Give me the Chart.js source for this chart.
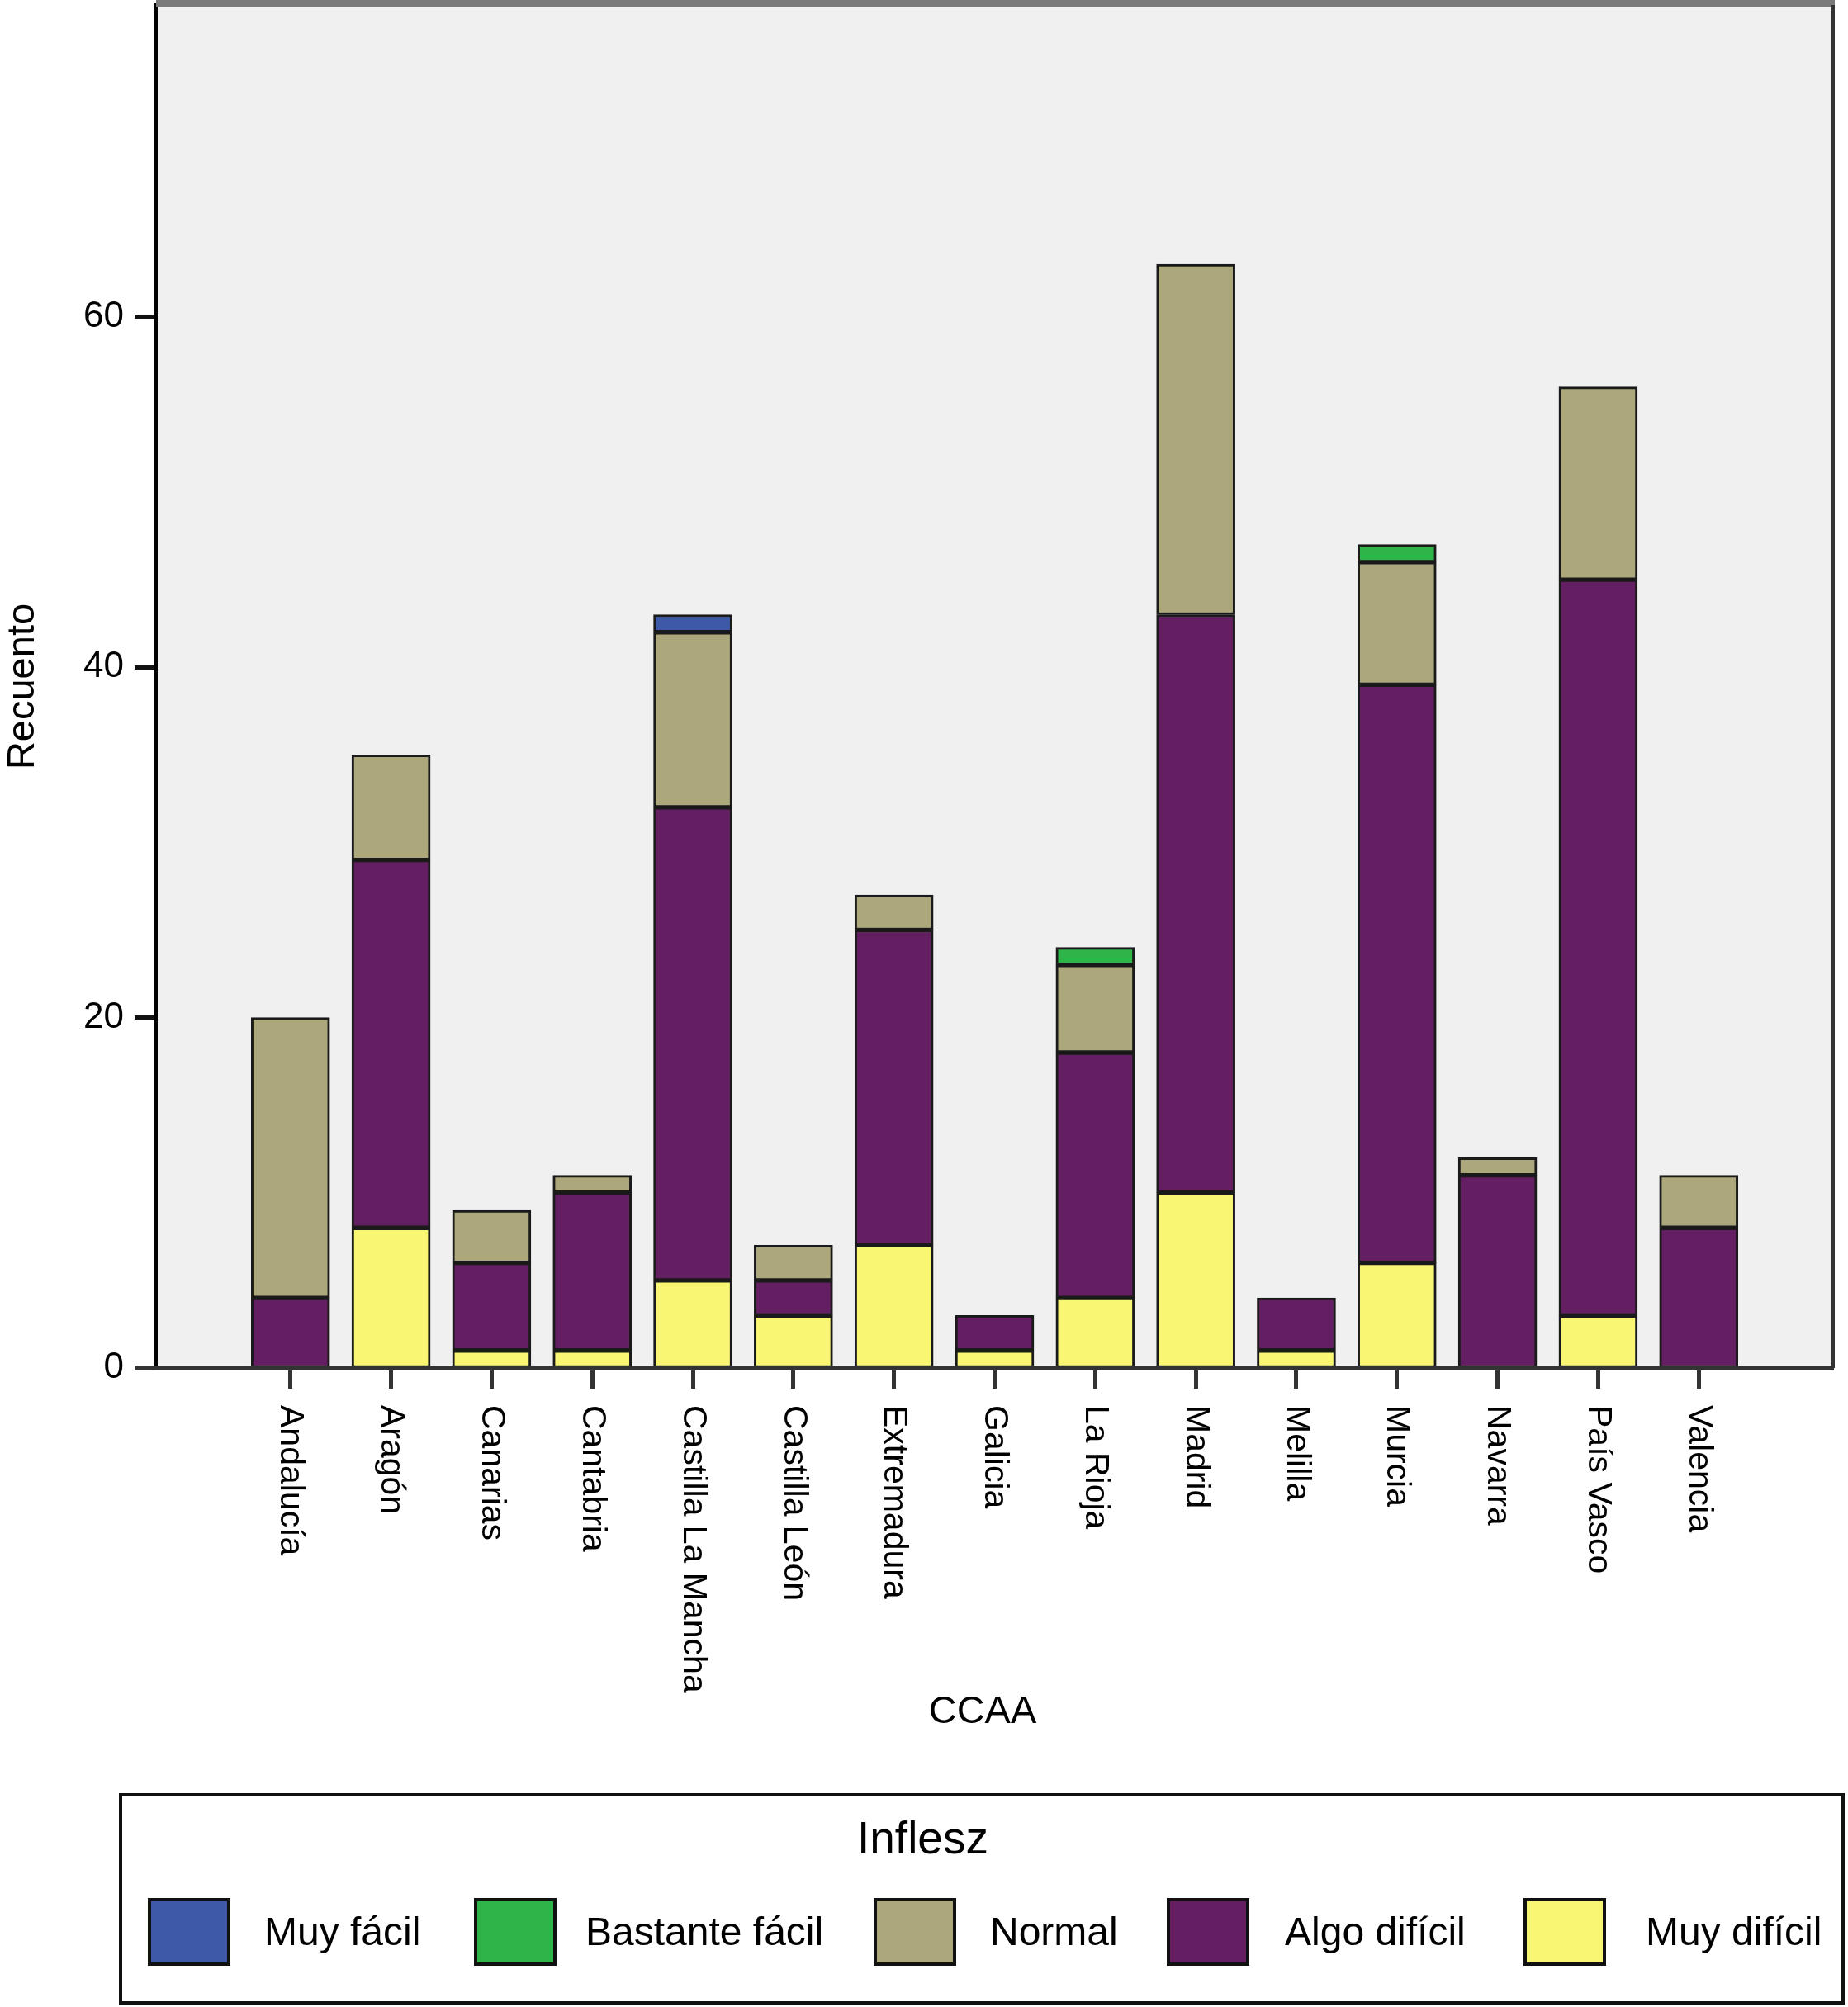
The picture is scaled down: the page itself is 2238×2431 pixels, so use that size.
<!DOCTYPE html>
<html>
<head>
<meta charset="utf-8">
<script src="https://cdn.jsdelivr.net/npm/chart.js@4"></script>
<style>
  body { margin: 0; background: #fff; }
  #wrap { position: relative; width: 2238px; height: 2431px; font-family: "Liberation Sans", Arial, sans-serif; }
  #chart { position: absolute; left: 0; top: 0; }
  #legend { position: absolute; left: 144px; top: 2172px; width: 2082px; height: 248px; border: 4px solid #111; }
  #legend .ttl { position: absolute; top: 18px; font-size: 55px; color: #000; }
  #legend .box { position: absolute; width: 92px; height: 74px; border: 4px solid #111; }
  #legend .lbl { position: absolute; font-size: 48px; color: #000; line-height: 1; }
</style>
</head>
<body>
<div id="wrap">
  <canvas id="chart" width="2238" height="2431"></canvas>
  <div id="legend"></div>
</div>
<script>
const categories = ["Andalucía", "Aragón", "Canarias", "Cantabria", "Castilla La Mancha", "Castilla León",
  "Extremadura", "Galicia", "La Rioja", "Madrid", "Melilla", "Murcia", "Navarra", "País Vasco", "Valencia"];

// stacked bottom to top
const muyDificil    = [0, 8, 1, 1, 5, 3, 7, 1, 4, 10, 1, 6, 0, 3, 0];
const algoDificil   = [4, 21, 5, 9, 27, 2, 18, 2, 14, 33, 3, 33, 11, 42, 8];
const normal        = [16, 6, 3, 1, 10, 2, 2, 0, 5, 20, 0, 7, 1, 11, 3];
const bastanteFacil = [0, 0, 0, 0, 0, 0, 0, 0, 1, 0, 0, 1, 0, 0, 0];
const muyFacil      = [0, 0, 0, 0, 1, 0, 0, 0, 0, 0, 0, 0, 0, 0, 0];

const yTicks = [0, 20, 40, 60];

const seriesNames = ["Muy difícil", "Algo difícil", "Normal", "Bastante fácil", "Muy fácil"];
const seriesData = [muyDificil, algoDificil, normal, bastanteFacil, muyFacil];
const seriesColors = ["#f9f674", "#631f61", "#aca87c", "#2eb54a", "#3f59a9"];

const FONT = "Liberation Sans";

function toPoints(arr) {
  return arr.map((v, i) => ({ x: i, y: v === 0 ? null : v }));
}

const datasets = seriesNames.map((name, k) => ({
  label: name,
  data: toPoints(seriesData[k]),
  backgroundColor: seriesColors[k],
  borderColor: "#1a1a1a",
  borderWidth: 3,
  borderSkipped: false,
  barThickness: 95,
}));

const framePlugin = {
  id: "frame",
  beforeDraw(chart) {
    const a = chart.chartArea;
    const ctx = chart.ctx;
    ctx.save();
    ctx.fillStyle = "#f0f0f0";
    ctx.fillRect(a.left, a.top, a.right - a.left, a.bottom - a.top);
    ctx.restore();
  },
  afterDatasetsDraw(chart) {
    const a = chart.chartArea;
    const ctx = chart.ctx;
    ctx.save();
    // top border
    ctx.strokeStyle = "#7a7a7a";
    ctx.lineWidth = 9;
    ctx.beginPath();
    ctx.moveTo(a.left, 4.5);
    ctx.lineTo(a.right + 2, 4.5);
    ctx.stroke();
    // right border
    ctx.strokeStyle = "#333";
    ctx.lineWidth = 4;
    ctx.beginPath();
    ctx.moveTo(a.right, a.top);
    ctx.lineTo(a.right, a.bottom);
    ctx.stroke();
    // baseline, running a bit left of the y axis
    ctx.strokeStyle = "#333";
    ctx.lineWidth = 5;
    ctx.beginPath();
    ctx.moveTo(163, a.bottom);
    ctx.lineTo(a.right, a.bottom);
    ctx.stroke();
    ctx.restore();
  },
  afterDraw(chart) {
    const xs = chart.scales.x;
    const ctx = chart.ctx;
    ctx.save();
    ctx.fillStyle = "#000";
    ctx.font = "41px '" + FONT + "'";
    ctx.textAlign = "left";
    ctx.textBaseline = "middle";
    categories.forEach((c, i) => {
      ctx.save();
      ctx.translate(xs.getPixelForValue(i), 1702);
      ctx.rotate(Math.PI / 2);
      ctx.fillText(c, 0, 0);
      ctx.restore();
    });
    // axis title, centred under the bars like the original
    ctx.font = "47px '" + FONT + "'";
    ctx.textAlign = "center";
    ctx.fillText("CCAA", 1190, 2074);
    ctx.restore();
  },
};

new Chart(document.getElementById("chart"), {
  type: "bar",
  data: { datasets: datasets },
  plugins: [framePlugin],
  options: {
    responsive: false,
    devicePixelRatio: 1,
    animation: false,
    layout: { autoPadding: false, padding: { left: 0, top: 6, right: 18, bottom: 329 } },
    plugins: { legend: { display: false }, tooltip: { enabled: false } },
    scales: {
      x: {
        type: "linear",
        stacked: true,
        offset: false,
        min: -1.336,
        max: 15.336,
        afterBuildTicks(scale) {
          scale.ticks = categories.map((c, i) => ({ value: i }));
        },
        afterFit(scale) {
          scale.height = 445;
          scale.paddingLeft = 0;
          scale.paddingRight = 0;
        },
        ticks: { autoSkip: false, maxRotation: 0, callback: () => "" },
        grid: { offset: false, drawOnChartArea: false, drawTicks: true, tickLength: 25, tickWidth: 5, tickColor: "#333" },
        border: { display: true, color: "#333", width: 5 },
        title: { display: false },
      },
      y: {
        stacked: true,
        min: 0,
        max: 77.8,
        afterBuildTicks(scale) {
          scale.ticks = yTicks.map((v) => ({ value: v }));
        },
        afterFit(scale) {
          scale.width = 189;
          scale.paddingTop = 0;
          scale.paddingBottom = 0;
        },
        ticks: { color: "#000", padding: 13, font: { family: FONT, size: 44 } },
        grid: { drawOnChartArea: false, drawTicks: true, tickLength: 26, tickWidth: 5, tickColor: "#111" },
        border: { display: true, color: "#000", width: 4 },
        title: {
          display: true,
          text: "Recuento",
          color: "#000",
          font: { family: FONT, size: 47 },
          padding: { top: 0, bottom: 0 },
        },
      },
    },
  },
});

// legend, in the order of the reference (top of stack first); offsets inside the box
const legendBoxX = [31, 426, 910, 1265, 1697];
const legendTextX = [172, 561, 1051, 1408, 1845];
const legend = document.getElementById("legend");
const title = document.createElement("div");
title.className = "ttl";
title.textContent = "Inflesz";
title.style.left = "890px";
legend.appendChild(title);
seriesNames.slice().reverse().forEach((name, j) => {
  const k = seriesNames.length - 1 - j;
  const box = document.createElement("div");
  box.className = "box";
  box.style.background = seriesColors[k];
  box.style.left = legendBoxX[j] + "px";
  box.style.top = "123px";
  legend.appendChild(box);
  const lbl = document.createElement("div");
  lbl.className = "lbl";
  lbl.textContent = name;
  lbl.style.left = legendTextX[j] + "px";
  lbl.style.top = "140px";
  legend.appendChild(lbl);
});
</script>
</body>
</html>
